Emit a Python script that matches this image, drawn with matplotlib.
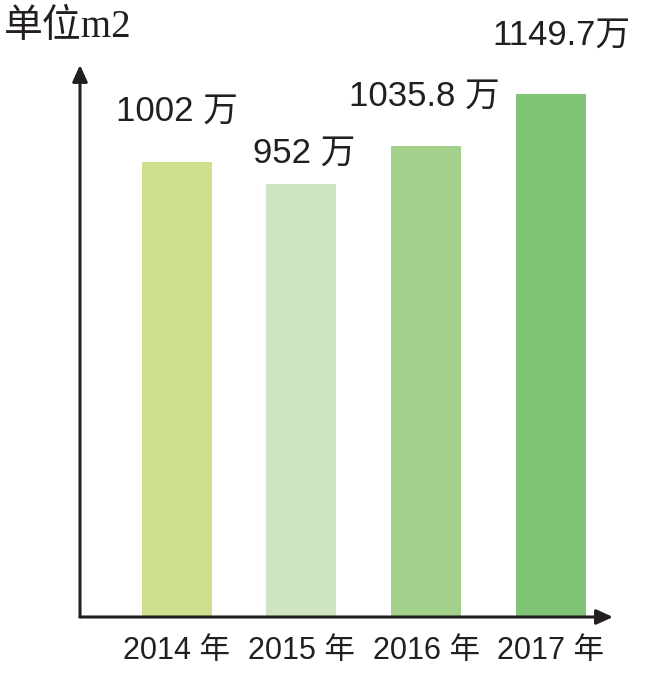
import matplotlib
matplotlib.use("Agg")
from matplotlib import pyplot as plt

years = ["2014 年", "2015 年", "2016 年", "2017 年"]
values = [1002, 952, 1035.8, 1149.7]
value_labels = ["1002 万", "952 万", "1035.8 万", "1149.7万"]
colors = ["#cde08f", "#cde5c1", "#a3d18c", "#80c576"]
# label offsets in pixels from the bar top centre
label_dx = [0, 3, -2, 11]
label_dy = [50, 31, 50, 59]

ink = "#231f20"

fig = plt.figure(figsize=(6.57, 6.77), dpi=100)
ax = fig.add_axes([80 / 657, 60 / 677, 533 / 657, 552 / 677])

x = list(range(len(values)))
ax.bar(x, values, width=0.561, color=colors, zorder=1)

ax.set_xlim(-0.7755, 3.499)
ax.set_ylim(0, 1214.5)

for s in ax.spines.values():
    s.set_visible(False)
ax.set_yticks([])
ax.set_xticks(x)
ax.set_xticklabels(years)
ax.tick_params(axis="x", length=0, pad=14)
for t in ax.get_xticklabels():
    t.set_family(["Liberation Sans", "Noto Sans CJK SC"])
    t.set_fontsize(22)
    t.set_color(ink)

# axis arrows
arrow = dict(arrowstyle="-|>,head_length=0.55,head_width=0.25", color=ink,
             lw=2.2, shrinkA=0, shrinkB=0, mutation_scale=18)
ax.annotate("", xy=(1, 0), xytext=(0, 0), xycoords="axes fraction",
            arrowprops=arrow, annotation_clip=False, zorder=3)
ax.annotate("", xy=(0, 1), xytext=(0, 0), xycoords="axes fraction",
            arrowprops=arrow, annotation_clip=False, zorder=3)

for i, v in enumerate(values):
    ax.annotate(value_labels[i], xy=(x[i], v), xytext=(label_dx[i], label_dy[i]),
                textcoords="offset pixels", ha="center", va="center",
                fontsize=25, color=ink,
                family=["Liberation Sans", "Noto Sans CJK SC"],
                annotation_clip=False)

fig.text(4 / 657, 1 - 28 / 677, "单位m2", ha="left", va="center", fontsize=28,
         color=ink, family=["Liberation Serif", "Noto Sans CJK SC"],
         fontweight="light")

fig.savefig("out.png", dpi=100, facecolor="white")
